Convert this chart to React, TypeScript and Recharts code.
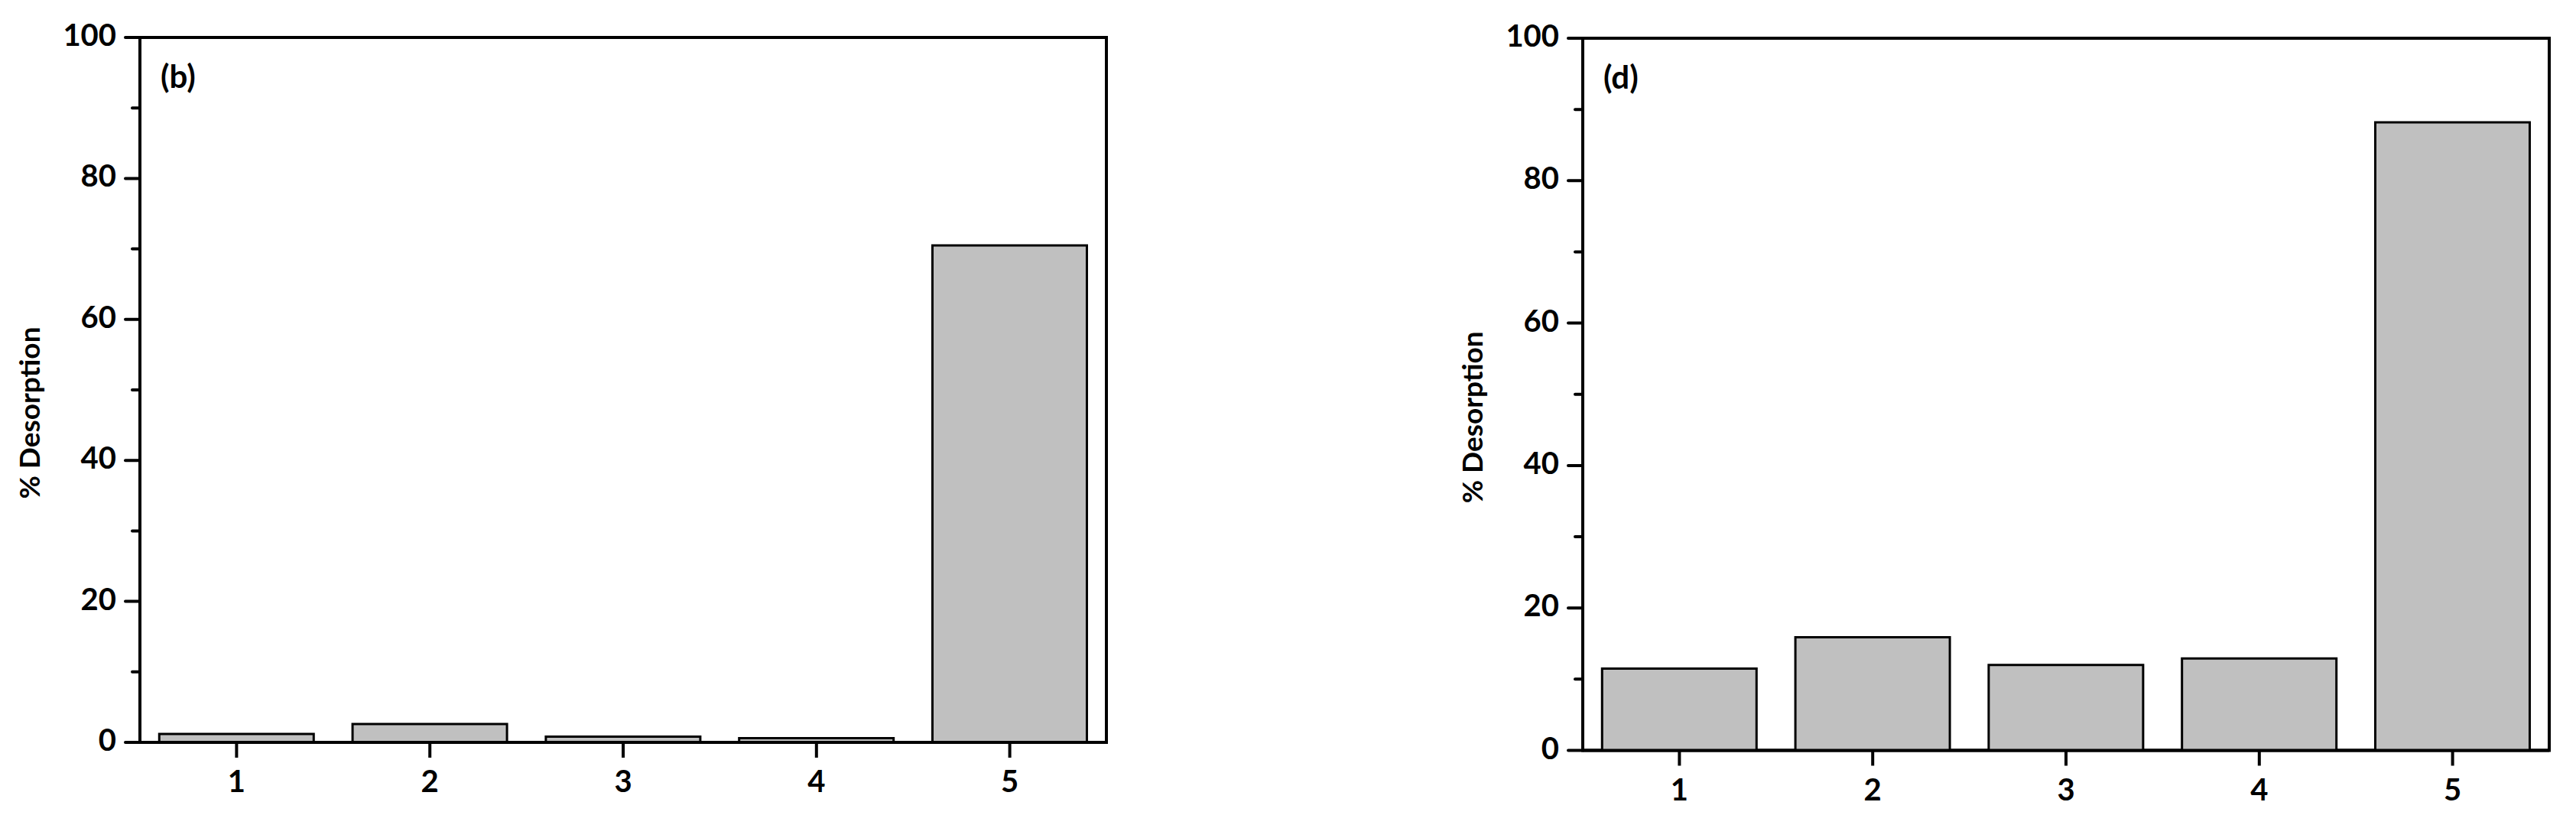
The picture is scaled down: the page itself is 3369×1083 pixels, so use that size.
import React from "react";
import {
  BarChart,
  Bar,
  XAxis,
  YAxis,
  ReferenceArea,
  Label,
} from "recharts";

const categories = ["1", "2", "3", "4", "5"];
const desorptionB = [1.2, 2.6, 0.8, 0.6, 70.5];
const desorptionD = [11.5, 15.9, 12.0, 12.9, 88.2];
const yTicks = [0, 10, 20, 30, 40, 50, 60, 70, 80, 90, 100];

const FONT = "Lato, 'Open Sans', sans-serif";

function toRows(values: number[]) {
  return categories.map((name, i) => ({ name, value: values[i] }));
}

function YTick(props: any) {
  const { x, y, payload } = props;
  const major = payload.value % 20 === 0;
  return (
    <g>
      <line
        x1={x - (major ? 19 : 10)}
        x2={x}
        y1={y}
        y2={y}
        stroke="#000"
        strokeWidth={4}
        strokeLinecap="round"
      />
      {major && (
        <text
          x={x - 31}
          y={y}
          dy={-4}
          textAnchor="end"
          dominantBaseline="central"
          fontFamily={FONT}
          fontWeight="bold"
          fontSize={40}
          fill="#000"
        >
          {payload.value}
        </text>
      )}
    </g>
  );
}

function XTick(props: any) {
  const { x, y, payload } = props;
  return (
    <g>
      <line x1={x} x2={x} y1={y} y2={y + 20} stroke="#000" strokeWidth={4} />
      <text
        x={x}
        y={y + 50}
        textAnchor="middle"
        dominantBaseline="central"
        fontFamily={FONT}
        fontWeight="bold"
        fontSize={40}
        fill="#000"
      >
        {payload.value}
      </text>
    </g>
  );
}

interface PanelProps {
  values: number[];
  panel: string;
  left: number;
  width: number;
  margin: { top: number; right: number; bottom: number; left: number };
}

function Panel({ values, panel, left, width, margin }: PanelProps) {
  const data = toRows(values);
  return (
    <div style={{ position: "absolute", left, top: 0 }}>
      <BarChart
        width={width}
        height={1083}
        data={data}
        margin={margin}
        barCategoryGap="10%"
      >
        <XAxis
          dataKey="name"
          height={80}
          tickSize={0}
          tickMargin={0}
          tickLine={false}
          tick={<XTick />}
          axisLine={{ stroke: "#000", strokeWidth: 4 }}
        />
        <YAxis
          width={100}
          domain={[0, 100]}
          ticks={yTicks}
          interval={0}
          tickSize={0}
          tickMargin={0}
          tickLine={false}
          tick={<YTick />}
          axisLine={{ stroke: "#000", strokeWidth: 4 }}
          label={
            <Label
              content={(p: any) => {
                const vb = p.viewBox;
                const cx = vb.x + vb.width - 146;
                const cy = vb.y + vb.height / 2 + 30;
                return (
                  <text
                    x={cx}
                    y={cy}
                    transform={`rotate(-90 ${cx} ${cy})`}
                    textAnchor="middle"
                    dominantBaseline="central"
                    fontFamily={FONT}
                    fontWeight="bold"
                    fontSize={37}
                    fill="#000"
                  >
                    % Desorption
                  </text>
                );
              }}
            />
          }
        />
        <Bar
          dataKey="value"
          fill="#c0c0c0"
          stroke="#000"
          strokeWidth={3}
          isAnimationActive={false}
        />
        <ReferenceArea
          y1={0}
          y2={100}
          fill="none"
          stroke="#000"
          strokeWidth={4}
          ifOverflow="visible"
        >
          <Label
            content={(p: any) => {
              const vb = p.viewBox;
              return (
                <text
                  x={vb.x + 27}
                  y={vb.y + 66}
                  fontFamily={FONT}
                  fontWeight="bold"
                  fontSize={42}
                  fill="#000"
                >
                  {panel}
                </text>
              );
            }}
          />
        </ReferenceArea>
      </BarChart>
    </div>
  );
}

export default function App() {
  return (
    <div
      style={{
        position: "absolute",
        left: 0,
        top: 0,
        width: 3369,
        height: 1083,
        background: "#fff",
      }}
    >
      <Panel
        values={desorptionB}
        panel="(b)"
        left={0}
        width={1684}
        margin={{ top: 49, right: 237, bottom: 32, left: 83 }}
      />
      <Panel
        values={desorptionD}
        panel="(d)"
        left={1684}
        width={1685}
        margin={{ top: 50, right: 35, bottom: 21.5, left: 286 }}
      />
    </div>
  );
}
